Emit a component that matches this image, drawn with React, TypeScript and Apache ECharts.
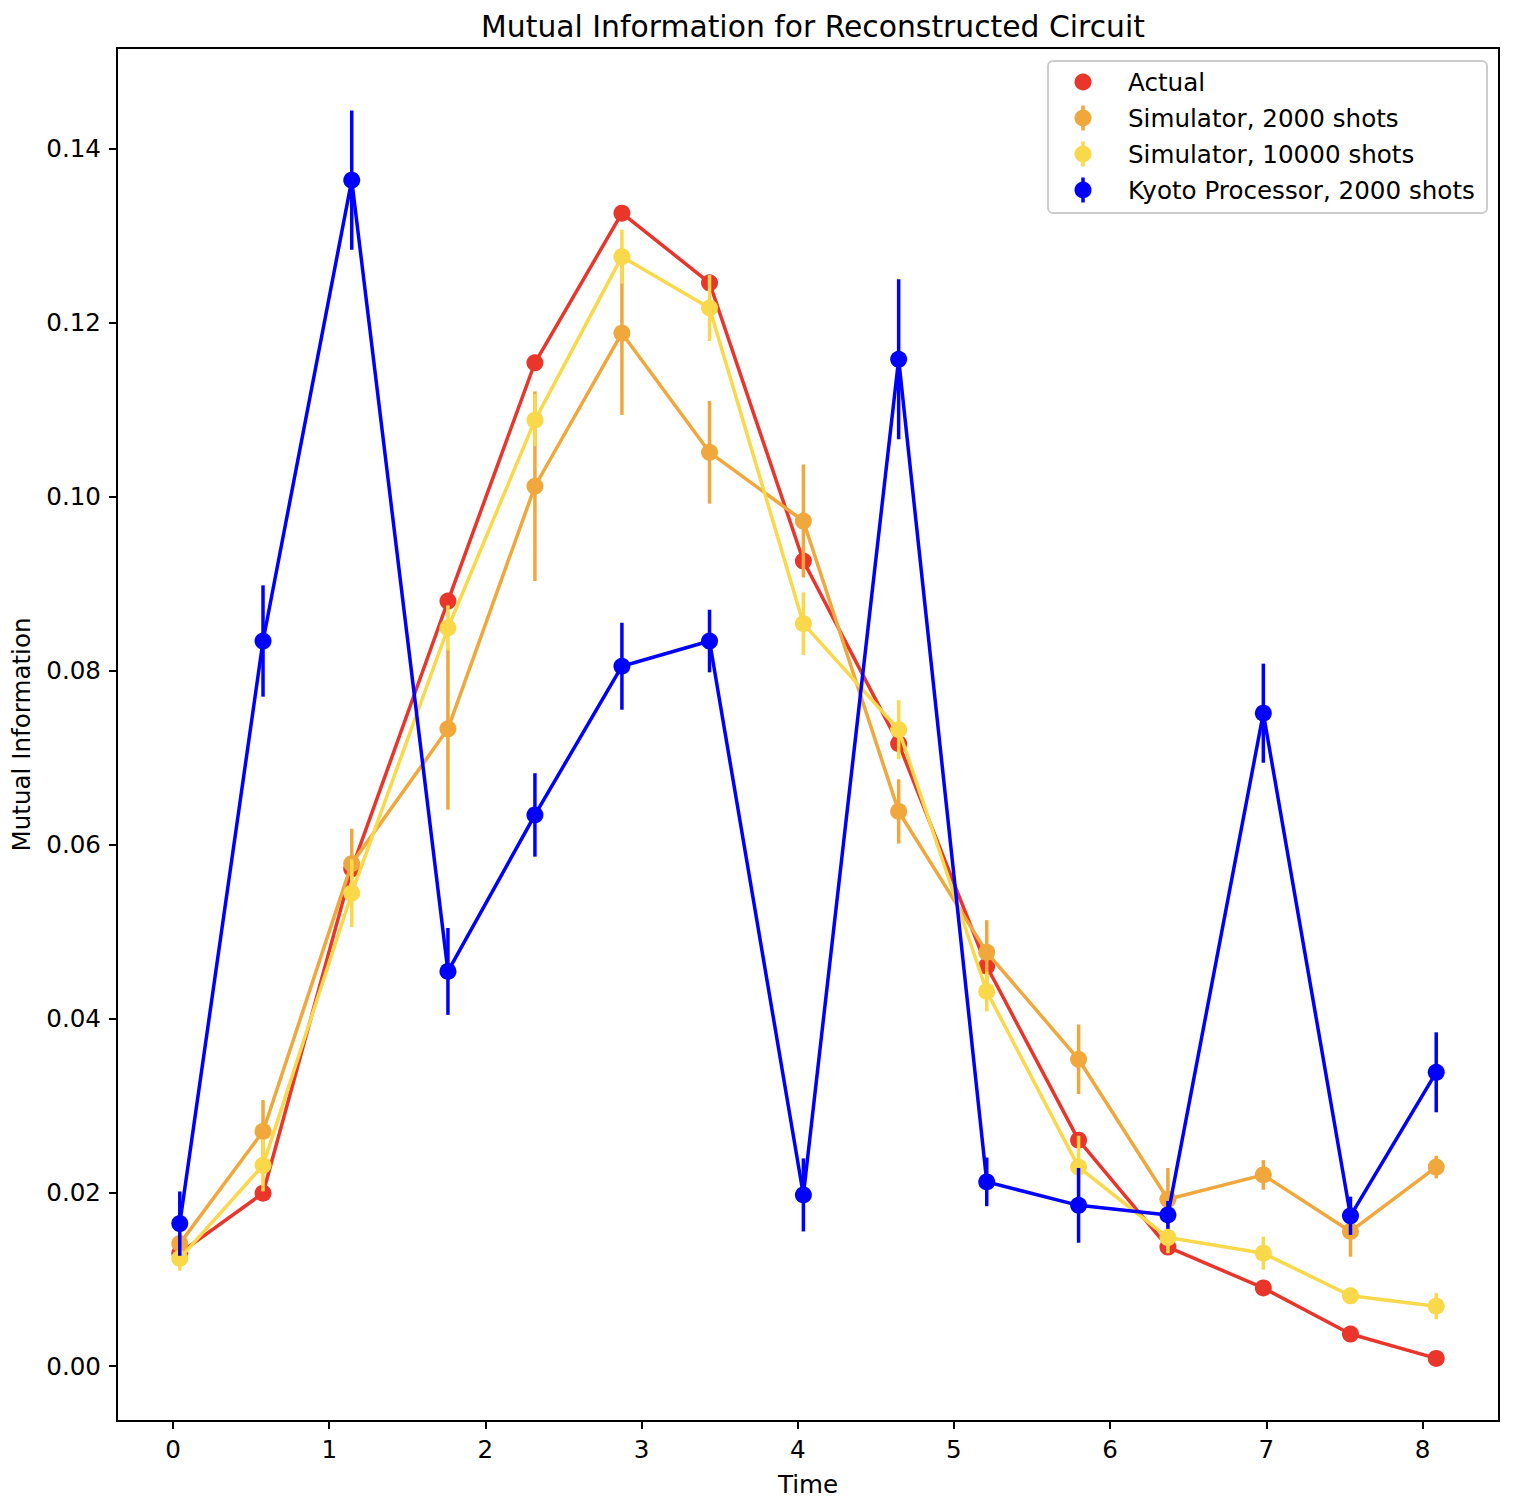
import React, { useEffect, useRef } from "react";
import * as echarts from "echarts";

const times = [0.043, 0.576, 1.144, 1.76, 2.317, 2.874, 3.435, 4.036, 4.646, 5.21, 5.798, 6.37, 6.981, 7.539, 8.088];

const actual = [0.013, 0.0199, 0.0572, 0.088, 0.1154, 0.1326, 0.1246, 0.0926, 0.0716, 0.046, 0.026, 0.0137, 0.009, 0.0037, 0.0009];

const sim2000 = [0.0141, 0.027, 0.0578, 0.0733, 0.1012, 0.1188, 0.1051, 0.0972, 0.0638, 0.0476, 0.0353, 0.0192, 0.022, 0.0155, 0.0229];
const sim2000Err = [0.0012, 0.0036, 0.004, 0.0093, 0.0109, 0.0094, 0.0059, 0.0065, 0.0037, 0.0037, 0.004, 0.0036, 0.0017, 0.0029, 0.0013];

const sim10000 = [0.0124, 0.0231, 0.0544, 0.0849, 0.1088, 0.1276, 0.1217, 0.0854, 0.0732, 0.0431, 0.0229, 0.0148, 0.013, 0.0081, 0.0069];
const sim10000Err = [0.0014, 0.003, 0.0039, 0.0026, 0.003, 0.0031, 0.0038, 0.0036, 0.0034, 0.0023, 0.0036, 0.0018, 0.0019, 0.0008, 0.0015];

const kyoto = [0.0164, 0.0834, 0.1364, 0.0454, 0.0634, 0.0805, 0.0834, 0.0197, 0.1158, 0.0212, 0.0185, 0.0174, 0.0751, 0.0173, 0.0338];
const kyotoErr = [0.0037, 0.0064, 0.008, 0.005, 0.0048, 0.005, 0.0036, 0.0042, 0.0092, 0.0028, 0.0043, 0.0016, 0.0057, 0.0022, 0.0046];

const xTicks = [0, 1, 2, 3, 4, 5, 6, 7, 8];
const yTicks = [0, 0.02, 0.04, 0.06, 0.08, 0.1, 0.12, 0.14];

const legendLabels = ["Actual", "Simulator, 2000 shots", "Simulator, 10000 shots", "Kyoto Processor, 2000 shots"];

const RED = "#e9352a";
const ORANGE = "#f0a73c";
const YELLOW = "#f9d84a";
const BLUE = "#0000ff";

const FONT = "DejaVu Sans";
const FS = 24.6;
const LW = 3.5;

function lineSeries(name: string, vals: number[], color: string, z: number) {
  return {
    type: "line",
    name,
    z,
    silent: true,
    data: times.map((t, i) => [t, vals[i]]),
    symbol: "circle",
    symbolSize: 17,
    showSymbol: true,
    lineStyle: { color, width: LW },
    itemStyle: { color },
  };
}

function errSeries(name: string, vals: number[], errs: number[], color: string, z: number) {
  return {
    type: "custom",
    name: name + " err",
    z,
    silent: true,
    clip: false,
    data: times.map((t, i) => [t, vals[i], errs[i]]),
    encode: { x: 0, y: 1 },
    renderItem: (_params: any, api: any) => {
      const x = api.value(0);
      const y = api.value(1);
      const e = api.value(2);
      const a = api.coord([x, y - e]);
      const b = api.coord([x, y + e]);
      return {
        type: "line",
        shape: { x1: a[0], y1: a[1], x2: b[0], y2: b[1] },
        style: { stroke: color, lineWidth: LW },
      };
    },
  };
}

export default function App() {
  const ref = useRef<HTMLDivElement>(null);

  useEffect(() => {
    const chart = echarts.init(ref.current!, null, { renderer: "svg" });

    const legendColors = [RED, ORANGE, YELLOW, BLUE];
    const rowY = [82, 118, 154, 190];
    const legendEls: any[] = [
      {
        type: "rect",
        shape: { x: 1048, y: 61, width: 439, height: 152, r: 5 },
        style: { fill: "rgba(255,255,255,0.8)", stroke: "#cccccc", lineWidth: 2 },
        z: 100,
      },
    ];
    legendLabels.forEach((lab, i) => {
      if (i > 0) {
        legendEls.push({
          type: "line",
          shape: { x1: 1083, y1: rowY[i] - 12.5, x2: 1083, y2: rowY[i] + 12.5 },
          style: { stroke: legendColors[i], lineWidth: LW },
          z: 101,
        });
      }
      legendEls.push({
        type: "circle",
        shape: { cx: 1083, cy: rowY[i], r: 8.5 },
        style: { fill: legendColors[i] },
        z: 102,
      });
      legendEls.push({
        type: "text",
        x: 1128,
        y: rowY[i],
        style: {
          text: lab,
          fontSize: FS,
          fontFamily: FONT,
          fill: "#000",
          verticalAlign: "middle",
          align: "left",
        },
        z: 102,
      });
    });

    const option: any = {
      animation: false,
      backgroundColor: "#ffffff",
      title: {
        text: "Mutual Information for Reconstructed Circuit",
        left: 808,
        top: 6,
        textAlign: "center",
        textStyle: { fontSize: 29.8, fontWeight: "normal", fontFamily: FONT, color: "#000" },
      },
      grid: {
        left: 117,
        top: 48,
        width: 1382,
        height: 1373,
        show: true,
        borderColor: "#000",
        borderWidth: 2,
        backgroundColor: "transparent",
      },
      xAxis: {
        type: "value",
        min: -0.359,
        max: 8.49,
        name: "Time",
        nameLocation: "middle",
        nameGap: 51,
        nameTextStyle: { fontSize: FS, fontFamily: FONT, color: "#000" },
        splitLine: { show: false },
        axisLine: { show: true, onZero: false, lineStyle: { color: "#000", width: 2 } },
        axisTick: { show: true, customValues: xTicks, length: 8, lineStyle: { color: "#000", width: 2 } },
        axisLabel: {
          customValues: xTicks,
          fontSize: FS,
          fontFamily: FONT,
          color: "#000",
          margin: 16,
          formatter: (v: number) => String(v),
        },
      },
      yAxis: {
        type: "value",
        min: -0.0063,
        max: 0.1516,
        name: "Mutual Information",
        nameLocation: "middle",
        nameGap: 83,
        nameTextStyle: { fontSize: FS, fontFamily: FONT, color: "#000" },
        splitLine: { show: false },
        axisLine: { show: true, onZero: false, lineStyle: { color: "#000", width: 2 } },
        axisTick: { show: true, customValues: yTicks, length: 8, lineStyle: { color: "#000", width: 2 } },
        axisLabel: {
          customValues: yTicks,
          fontSize: FS,
          fontFamily: FONT,
          color: "#000",
          margin: 16,
          formatter: (v: number) => v.toFixed(2),
        },
      },
      series: [
        lineSeries("Actual", actual, RED, 2),
        errSeries("Simulator, 2000 shots", sim2000, sim2000Err, ORANGE, 3),
        lineSeries("Simulator, 2000 shots", sim2000, ORANGE, 4),
        errSeries("Simulator, 10000 shots", sim10000, sim10000Err, YELLOW, 5),
        lineSeries("Simulator, 10000 shots", sim10000, YELLOW, 6),
        errSeries("Kyoto Processor, 2000 shots", kyoto, kyotoErr, BLUE, 7),
        lineSeries("Kyoto Processor, 2000 shots", kyoto, BLUE, 8),
      ],
      graphic: legendEls,
    };

    chart.setOption(option);
    return () => chart.dispose();
  }, []);

  return (
    <div
      ref={ref}
      style={{ position: "absolute", left: 0, top: 0, width: 1530, height: 1504 }}
    />
  );
}
